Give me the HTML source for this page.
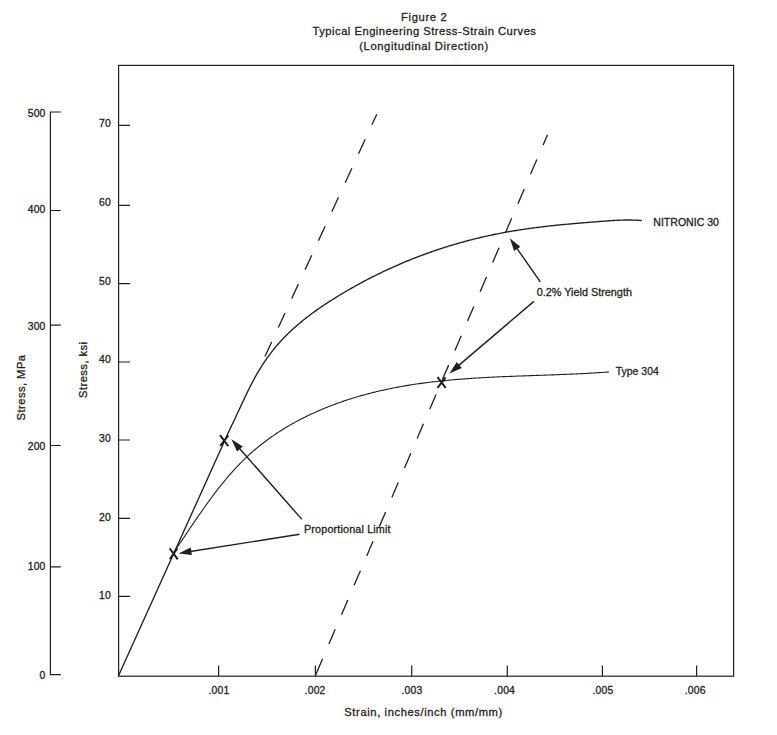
<!DOCTYPE html>
<html>
<head>
<meta charset="utf-8">
<style>
html,body{margin:0;padding:0;background:#fff;}
body{width:777px;height:735px;overflow:hidden;}
svg{display:block;}
text{font-family:"Liberation Sans", sans-serif;fill:#231f20;stroke:#231f20;stroke-width:0.3px;}
.t{font-size:11.2px;letter-spacing:0.5px;text-anchor:middle;}
.n{font-size:10.4px;letter-spacing:0.2px;text-anchor:end;}
.x{font-size:10.4px;letter-spacing:0.2px;text-anchor:middle;}
.l{font-size:10.8px;}
</style>
</head>
<body>
<svg width="777" height="735" viewBox="0 0 777 735">
<!-- title -->
<text class="t" x="424.2" y="20.7" style="letter-spacing:0.67px">Figure 2</text>
<text class="t" x="424.5" y="34.7">Typical Engineering Stress-Strain Curves</text>
<text class="t" x="424" y="49.6" style="letter-spacing:0.6px">(Longitudinal Direction)</text>

<g stroke="#231f20" fill="none" stroke-width="1.2">
<!-- frame -->
<rect x="118.6" y="65.4" width="615" height="610.8"/>
<!-- MPa axis -->
<path d="M60.8 112 H50.4 V674.6 H60.8"/>
<path d="M50.4 210.5 H60.8 M50.4 325.2 H60.8 M50.4 445.5 H60.8 M50.4 566.9 H60.8"/>
<!-- ksi ticks -->
<path d="M118.6 125.4 H130 M118.6 205.3 H130 M118.6 283.6 H130 M118.6 362 H130 M118.6 440 H130 M118.6 518.4 H130 M118.6 596.3 H130"/>
<!-- x ticks -->
<path d="M218.6 676 V665.4 M315.4 676 V665.4 M411.7 676 V665.4 M507.3 676 V665.4 M602.4 676 V665.4 M696.6 676 V665.4"/>
</g>

<!-- MPa labels -->
<text class="n" x="45.6" y="117.1">500</text>
<text class="n" x="45.6" y="213">400</text>
<text class="n" x="45.6" y="330">300</text>
<text class="n" x="45.6" y="450">200</text>
<text class="n" x="45.6" y="569.9">100</text>
<text class="n" x="45.6" y="678.8">0</text>
<!-- ksi labels -->
<text class="n" x="111" y="126.8">70</text>
<text class="n" x="111" y="206.1">60</text>
<text class="n" x="111" y="284.9">50</text>
<text class="n" x="111" y="362.9">40</text>
<text class="n" x="111" y="441.9">30</text>
<text class="n" x="111" y="520.7">20</text>
<text class="n" x="111" y="598.7">10</text>
<!-- x labels -->
<text class="x" x="219" y="693.8">.001</text>
<text class="x" x="315.1" y="693.8">.002</text>
<text class="x" x="412" y="693.8">.003</text>
<text class="x" x="504.6" y="693.8">.004</text>
<text class="x" x="603" y="693.8">.005</text>
<text class="x" x="695.2" y="693.8">.006</text>
<text class="t" x="423.6" y="716.2" style="letter-spacing:0.6px">Strain, inches/inch (mm/mm)</text>

<!-- axis titles -->
<text class="t" style="text-anchor:start;letter-spacing:0.45px" transform="translate(24.9,420.4) rotate(-90)">Stress, MPa</text>
<text class="t" style="text-anchor:start;letter-spacing:0.45px" transform="translate(86.5,398) rotate(-90)">Stress, ksi</text>

<!-- curves -->
<g stroke="#231f20" fill="none" stroke-linecap="round" stroke-linejoin="round">
<!-- elastic + nitronic -->
<path stroke-width="1.35" d="M118.4 676 L229.51 430 L230.01 428.83 L230.55 427.74 L231.10 426.64 L231.64 425.55 L232.18 424.45 L232.71 423.35 L233.25 422.24 L233.78 421.13 L234.31 420.02 L234.84 418.91 L235.36 417.80 L235.89 416.69 L236.41 415.57 L236.93 414.45 L237.45 413.33 L237.98 412.21 L238.50 411.09 L239.02 409.97 L239.54 408.85 L240.06 407.73 L240.58 406.60 L241.10 405.48 L241.62 404.35 L242.14 403.23 L242.67 402.11 L243.19 400.98 L243.72 399.86 L244.25 398.74 L244.78 397.61 L245.31 396.49 L245.84 395.37 L246.38 394.25 L246.92 393.14 L247.46 392.02 L248.00 390.90 L248.55 389.79 L249.10 388.68 L249.66 387.57 L250.22 386.46 L250.78 385.36 L251.35 384.25 L251.92 383.15 L252.49 382.05 L253.07 380.96 L253.66 379.87 L254.25 378.78 L254.85 377.69 L255.45 376.61 L256.05 375.53 L256.67 374.45 L257.29 373.38 L257.91 372.32 L258.54 371.25 L259.18 370.19 L259.82 369.13 L260.47 368.08 L261.12 367.04 L261.79 365.99 L262.45 364.95 L263.13 363.92 L263.81 362.89 L264.49 361.86 L265.19 360.84 L265.89 359.83 L266.59 358.82 L267.30 357.81 L268.02 356.81 L268.75 355.81 L269.48 354.82 L270.21 353.84 L270.96 352.86 L271.71 351.89 L272.47 350.92 L273.23 349.95 L274.00 349.00 L274.78 348.04 L275.56 347.10 L276.35 346.16 L277.15 345.23 L277.95 344.30 L278.76 343.38 L279.58 342.46 L280.40 341.55 L281.23 340.65 L282.07 339.75 L282.91 338.86 L283.76 337.97 L284.61 337.09 L285.47 336.22 L286.34 335.35 L287.21 334.48 L288.09 333.62 L288.97 332.77 L289.86 331.92 L290.76 331.08 L291.66 330.24 L292.56 329.41 L293.47 328.58 L294.39 327.76 L295.31 326.94 L296.23 326.13 L297.16 325.32 L298.10 324.52 L299.04 323.72 L299.98 322.93 L300.93 322.14 L301.88 321.36 L302.84 320.58 L303.80 319.81 L304.77 319.04 L305.74 318.27 L306.71 317.51 L307.69 316.76 L308.67 316.01 L309.66 315.26 L310.65 314.51 L311.64 313.77 L312.64 313.04 L313.64 312.31 L314.64 311.58 L315.65 310.86 L316.66 310.14 L317.67 309.42 L318.69 308.71 L319.71 308.01 L320.73 307.30 L321.76 306.60 L322.78 305.90 L323.81 305.21 L324.85 304.52 L325.88 303.84 L326.92 303.15 L327.96 302.47 L329.00 301.80 L330.05 301.13 L331.09 300.46 L332.14 299.79 L333.19 299.13 L334.25 298.47 L335.30 297.81 L336.36 297.15 L337.41 296.50 L338.47 295.85 L339.53 295.21 L340.60 294.57 L341.66 293.93 L342.72 293.29 L343.79 292.65 L344.86 292.02 L345.93 291.39 L347.00 290.77 L348.07 290.14 L349.14 289.52 L350.22 288.91 L351.30 288.29 L352.37 287.68 L353.45 287.07 L354.53 286.47 L355.61 285.86 L356.70 285.26 L357.78 284.66 L358.87 284.07 L359.96 283.48 L361.04 282.89 L362.13 282.30 L363.23 281.72 L364.32 281.14 L365.41 280.56 L366.51 279.99 L367.60 279.41 L368.70 278.85 L369.80 278.28 L370.90 277.72 L372.00 277.16 L373.11 276.60 L374.21 276.04 L375.32 275.49 L376.43 274.94 L377.53 274.40 L378.64 273.85 L379.75 273.31 L380.87 272.78 L381.98 272.24 L383.09 271.71 L384.21 271.18 L385.33 270.66 L386.45 270.13 L387.57 269.61 L388.69 269.10 L389.81 268.58 L390.93 268.07 L392.06 267.56 L393.18 267.06 L394.31 266.55 L395.44 266.05 L396.57 265.56 L397.70 265.06 L398.83 264.57 L399.96 264.08 L401.10 263.60 L402.23 263.11 L403.37 262.63 L404.50 262.16 L405.64 261.68 L406.78 261.21 L407.92 260.75 L409.06 260.28 L410.21 259.82 L411.35 259.36 L412.50 258.90 L413.64 258.45 L414.79 258.00 L415.94 257.55 L417.09 257.11 L418.24 256.66 L419.39 256.23 L420.54 255.79 L421.70 255.36 L422.85 254.93 L424.01 254.50 L425.17 254.08 L426.33 253.65 L427.48 253.24 L428.64 252.82 L429.81 252.41 L430.97 252.00 L432.13 251.59 L433.30 251.19 L434.46 250.79 L435.63 250.39 L436.79 250.00 L437.96 249.60 L439.13 249.21 L440.30 248.83 L441.47 248.45 L442.65 248.07 L443.82 247.69 L444.99 247.31 L446.17 246.94 L447.34 246.57 L448.52 246.21 L449.70 245.85 L450.88 245.49 L452.06 245.13 L453.24 244.78 L454.42 244.43 L455.60 244.08 L456.79 243.74 L457.97 243.39 L459.16 243.05 L460.34 242.72 L461.53 242.39 L462.72 242.06 L463.91 241.73 L465.10 241.41 L466.29 241.09 L467.48 240.77 L468.67 240.45 L469.86 240.14 L471.06 239.83 L472.25 239.53 L473.45 239.22 L474.64 238.92 L475.84 238.63 L477.04 238.33 L478.24 238.04 L479.44 237.75 L480.64 237.47 L481.84 237.19 L483.04 236.91 L484.24 236.63 L485.45 236.36 L486.65 236.09 L487.86 235.82 L489.06 235.56 L490.27 235.30 L491.48 235.04 L492.69 234.78 L493.89 234.53 L495.10 234.28 L496.31 234.04 L497.53 233.79 L498.74 233.55 L499.95 233.32 L501.16 233.08 L502.38 232.85 L503.59 232.62 L504.81 232.40 L506.02 232.18 L507.24 231.96 L508.46 231.74 L509.68 231.53 L510.89 231.32 L512.11 231.11 L513.33 230.91 L514.55 230.71 L515.78 230.51 L517.00 230.31 L518.22 230.12 L519.44 229.93 L520.67 229.74 L521.89 229.56 L523.11 229.37 L524.34 229.19 L525.56 229.02 L526.79 228.84 L528.02 228.67 L529.24 228.50 L530.47 228.33 L531.70 228.16 L532.93 228.00 L534.15 227.84 L535.38 227.68 L536.61 227.52 L537.84 227.37 L539.07 227.21 L540.30 227.06 L541.53 226.92 L542.76 226.77 L543.99 226.62 L545.22 226.48 L546.46 226.34 L547.69 226.20 L548.92 226.06 L550.15 225.93 L551.39 225.79 L552.62 225.66 L553.85 225.53 L555.08 225.40 L556.32 225.27 L557.55 225.15 L558.78 225.02 L560.02 224.90 L561.25 224.78 L562.48 224.66 L563.72 224.54 L564.95 224.42 L566.19 224.31 L567.42 224.19 L568.65 224.08 L569.89 223.96 L571.12 223.85 L572.36 223.74 L573.59 223.63 L574.82 223.52 L576.06 223.42 L577.29 223.31 L578.52 223.21 L579.76 223.10 L580.99 223.00 L582.22 222.89 L583.46 222.79 L584.69 222.69 L585.92 222.59 L587.16 222.49 L588.39 222.39 L589.62 222.29 L590.85 222.19 L592.08 222.09 L593.31 222.00 L594.55 221.90 L595.78 221.80 L597.01 221.71 L598.24 221.61 L599.47 221.52 L600.70 221.42 L601.93 221.33 L603.16 221.23 L604.38 221.14 L605.61 221.05 L606.84 220.96 L608.07 220.87 L609.30 220.78 L610.53 220.70 L611.75 220.62 L612.98 220.54 L614.21 220.47 L615.43 220.40 L616.66 220.34 L617.89 220.28 L619.12 220.23 L620.34 220.18 L621.57 220.13 L622.80 220.10 L624.02 220.07 L625.25 220.04 L626.48 220.03 L627.71 220.02 L628.93 220.02 L630.16 220.02 L631.39 220.04 L632.62 220.06 L633.84 220.10 L635.07 220.14 L636.30 220.19 L637.53 220.26 L638.76 220.33 L639.99 220.41 L641.22 220.51"/>
<!-- type 304 -->
<path stroke-width="1.1" d="M173.46 552.71 L174.39 551.37 L175.31 550.03 L176.24 548.68 L177.16 547.32 L178.09 545.97 L179.01 544.61 L179.94 543.24 L180.86 541.88 L181.79 540.50 L182.72 539.13 L183.65 537.75 L184.58 536.38 L185.51 535.00 L186.44 533.61 L187.37 532.23 L188.31 530.84 L189.24 529.45 L190.18 528.06 L191.12 526.67 L192.06 525.28 L193.00 523.89 L193.95 522.50 L194.90 521.11 L195.85 519.71 L196.80 518.32 L197.76 516.93 L198.71 515.54 L199.68 514.15 L200.64 512.76 L201.61 511.37 L202.58 509.99 L203.55 508.60 L204.53 507.22 L205.51 505.84 L206.50 504.46 L207.49 503.08 L208.48 501.71 L209.48 500.34 L210.48 498.97 L211.49 497.61 L212.50 496.25 L213.51 494.89 L214.53 493.54 L215.56 492.19 L216.59 490.85 L217.62 489.51 L218.66 488.17 L219.71 486.84 L220.76 485.52 L221.82 484.20 L222.88 482.89 L223.95 481.58 L225.02 480.28 L226.10 478.98 L227.19 477.69 L228.28 476.41 L229.38 475.13 L230.49 473.87 L231.60 472.60 L232.72 471.35 L233.85 470.10 L234.98 468.87 L236.12 467.64 L237.27 466.41 L238.43 465.20 L239.59 464.00 L240.76 462.80 L241.94 461.61 L243.13 460.44 L244.32 459.27 L245.53 458.11 L246.74 456.96 L247.96 455.82 L249.19 454.70 L250.42 453.58 L251.67 452.47 L252.92 451.37 L254.18 450.28 L255.45 449.21 L256.73 448.14 L258.01 447.08 L259.31 446.03 L260.61 444.99 L261.91 443.97 L263.23 442.95 L264.55 441.94 L265.88 440.94 L267.22 439.95 L268.56 438.97 L269.91 438.00 L271.27 437.04 L272.64 436.08 L274.01 435.14 L275.39 434.21 L276.77 433.29 L278.16 432.37 L279.56 431.47 L280.96 430.57 L282.37 429.68 L283.79 428.81 L285.21 427.94 L286.64 427.08 L288.08 426.23 L289.52 425.39 L290.96 424.56 L292.42 423.73 L293.87 422.92 L295.34 422.11 L296.81 421.32 L298.28 420.53 L299.76 419.75 L301.24 418.98 L302.73 418.22 L304.23 417.47 L305.73 416.72 L307.23 415.99 L308.74 415.26 L310.25 414.54 L311.77 413.83 L313.29 413.13 L314.82 412.44 L316.35 411.76 L317.89 411.08 L319.43 410.41 L320.97 409.75 L322.52 409.10 L324.07 408.46 L325.62 407.82 L327.18 407.20 L328.75 406.58 L330.31 405.97 L331.88 405.36 L333.45 404.77 L335.03 404.18 L336.61 403.60 L338.19 403.03 L339.78 402.47 L341.37 401.91 L342.96 401.37 L344.55 400.83 L346.15 400.29 L347.75 399.77 L349.35 399.25 L350.96 398.74 L352.57 398.24 L354.18 397.75 L355.79 397.26 L357.40 396.78 L359.02 396.31 L360.64 395.84 L362.26 395.39 L363.88 394.94 L365.50 394.49 L367.12 394.06 L368.75 393.63 L370.38 393.21 L372.01 392.79 L373.64 392.39 L375.27 391.99 L376.90 391.59 L378.54 391.21 L380.17 390.83 L381.81 390.46 L383.44 390.09 L385.08 389.73 L386.72 389.38 L388.36 389.03 L390.00 388.69 L391.65 388.36 L393.29 388.03 L394.93 387.71 L396.58 387.40 L398.22 387.09 L399.87 386.78 L401.52 386.49 L403.17 386.20 L404.82 385.91 L406.47 385.63 L408.12 385.36 L409.77 385.09 L411.43 384.83 L413.08 384.57 L414.73 384.32 L416.39 384.07 L418.05 383.83 L419.70 383.59 L421.36 383.36 L423.02 383.13 L424.68 382.91 L426.34 382.69 L428.00 382.48 L429.66 382.27 L431.32 382.07 L432.99 381.87 L434.65 381.68 L436.32 381.49 L437.98 381.30 L439.65 381.12 L441.31 380.94 L442.98 380.77 L444.65 380.60 L446.31 380.44 L447.98 380.28 L449.65 380.12 L451.32 379.97 L452.99 379.82 L454.66 379.67 L456.33 379.53 L458.00 379.39 L459.67 379.25 L461.35 379.12 L463.02 378.99 L464.69 378.86 L466.37 378.74 L468.04 378.62 L469.71 378.51 L471.39 378.39 L473.06 378.28 L474.74 378.17 L476.41 378.07 L478.09 377.96 L479.77 377.86 L481.44 377.76 L483.12 377.67 L484.80 377.57 L486.47 377.48 L488.15 377.39 L489.83 377.31 L491.51 377.22 L493.19 377.14 L494.86 377.06 L496.54 376.98 L498.22 376.90 L499.90 376.82 L501.58 376.75 L503.26 376.67 L504.94 376.60 L506.62 376.53 L508.30 376.46 L509.97 376.40 L511.65 376.33 L513.33 376.26 L515.01 376.20 L516.69 376.14 L518.37 376.07 L520.05 376.01 L521.73 375.95 L523.41 375.89 L525.09 375.83 L526.77 375.77 L528.45 375.71 L530.13 375.65 L531.81 375.59 L533.48 375.53 L535.16 375.48 L536.84 375.42 L538.52 375.36 L540.20 375.30 L541.88 375.24 L543.55 375.19 L545.23 375.13 L546.91 375.07 L548.58 375.01 L550.26 374.95 L551.94 374.89 L553.61 374.83 L555.29 374.76 L556.97 374.70 L558.64 374.64 L560.32 374.57 L561.99 374.51 L563.66 374.44 L565.34 374.37 L567.01 374.30 L568.68 374.23 L570.36 374.16 L572.03 374.09 L573.70 374.01 L575.37 373.94 L577.04 373.86 L578.71 373.78 L580.38 373.70 L582.05 373.61 L583.72 373.53 L585.39 373.44 L587.06 373.35 L588.72 373.26 L590.39 373.16 L592.05 373.07 L593.72 372.97 L595.38 372.87 L597.05 372.77 L598.71 372.66 L600.37 372.55 L602.04 372.44 L603.70 372.32 L605.36 372.21 L607.02 372.09 L608.68 371.96"/>
<!-- dashed 1 -->
<path stroke-width="1.3" stroke-dasharray="15.9 16" stroke-linecap="butt" d="M265 356.5 L376.8 114.2"/>
<!-- dashed 2 -->
<path stroke-width="1.3" stroke-dasharray="16 15.95" stroke-dashoffset="-2.8" stroke-linecap="butt" d="M315.2 676 L547.5 134.8"/>
<path stroke-width="1.3" stroke-linecap="butt" d="M315.2 676 L316.4 673.3"/>
</g>

<!-- X marks -->
<g stroke="#231f20" stroke-width="2" fill="none">
<path d="M220 435.2 L228.3 446.2 M228.3 435.4 L220.2 445.9"/>
<path d="M169.6 548.4 L177.8 559.4 M177.4 548.4 L169.8 559"/>
<path d="M437.5 377.2 L445.7 387.9 M445.6 377.3 L437.5 387.9"/>
</g>

<!-- arrows -->
<g stroke="#231f20" stroke-width="1.4" fill="none">
<path d="M301.9 519.4 L239.3 448.2"/>
<path d="M299.5 534.3 L190.4 551.5"/>
<path d="M540.3 281.9 L516.7 248.1"/>
<path d="M533.9 301.4 L458.5 365.6"/>
</g>
<g fill="#231f20">
<path d="M231.4 439.2 L237.1 451.5 L242.8 446.5 Z"/>
<path d="M178.5 553.4 L191.9 555.1 L190.7 547.6 Z"/>
<path d="M509.8 238.3 L514.1 251.1 L520.4 246.8 Z"/>
<path d="M449.4 373.4 L461.8 367.9 L456.8 362.1 Z"/>
</g>

<!-- labels -->
<text class="l" x="653.3" y="226.1" style="font-size:10.55px">NITRONIC 30</text>
<text class="l" x="536.7" y="296.2" style="font-size:10.85px">0.2% Yield Strength</text>
<text class="l" x="615.8" y="374.7" style="font-size:10.45px">Type 304</text>
<text class="l" x="304" y="532.7" style="font-size:10.8px;letter-spacing:0.15px">Proportional Limit</text>
</svg>
</body>
</html>
